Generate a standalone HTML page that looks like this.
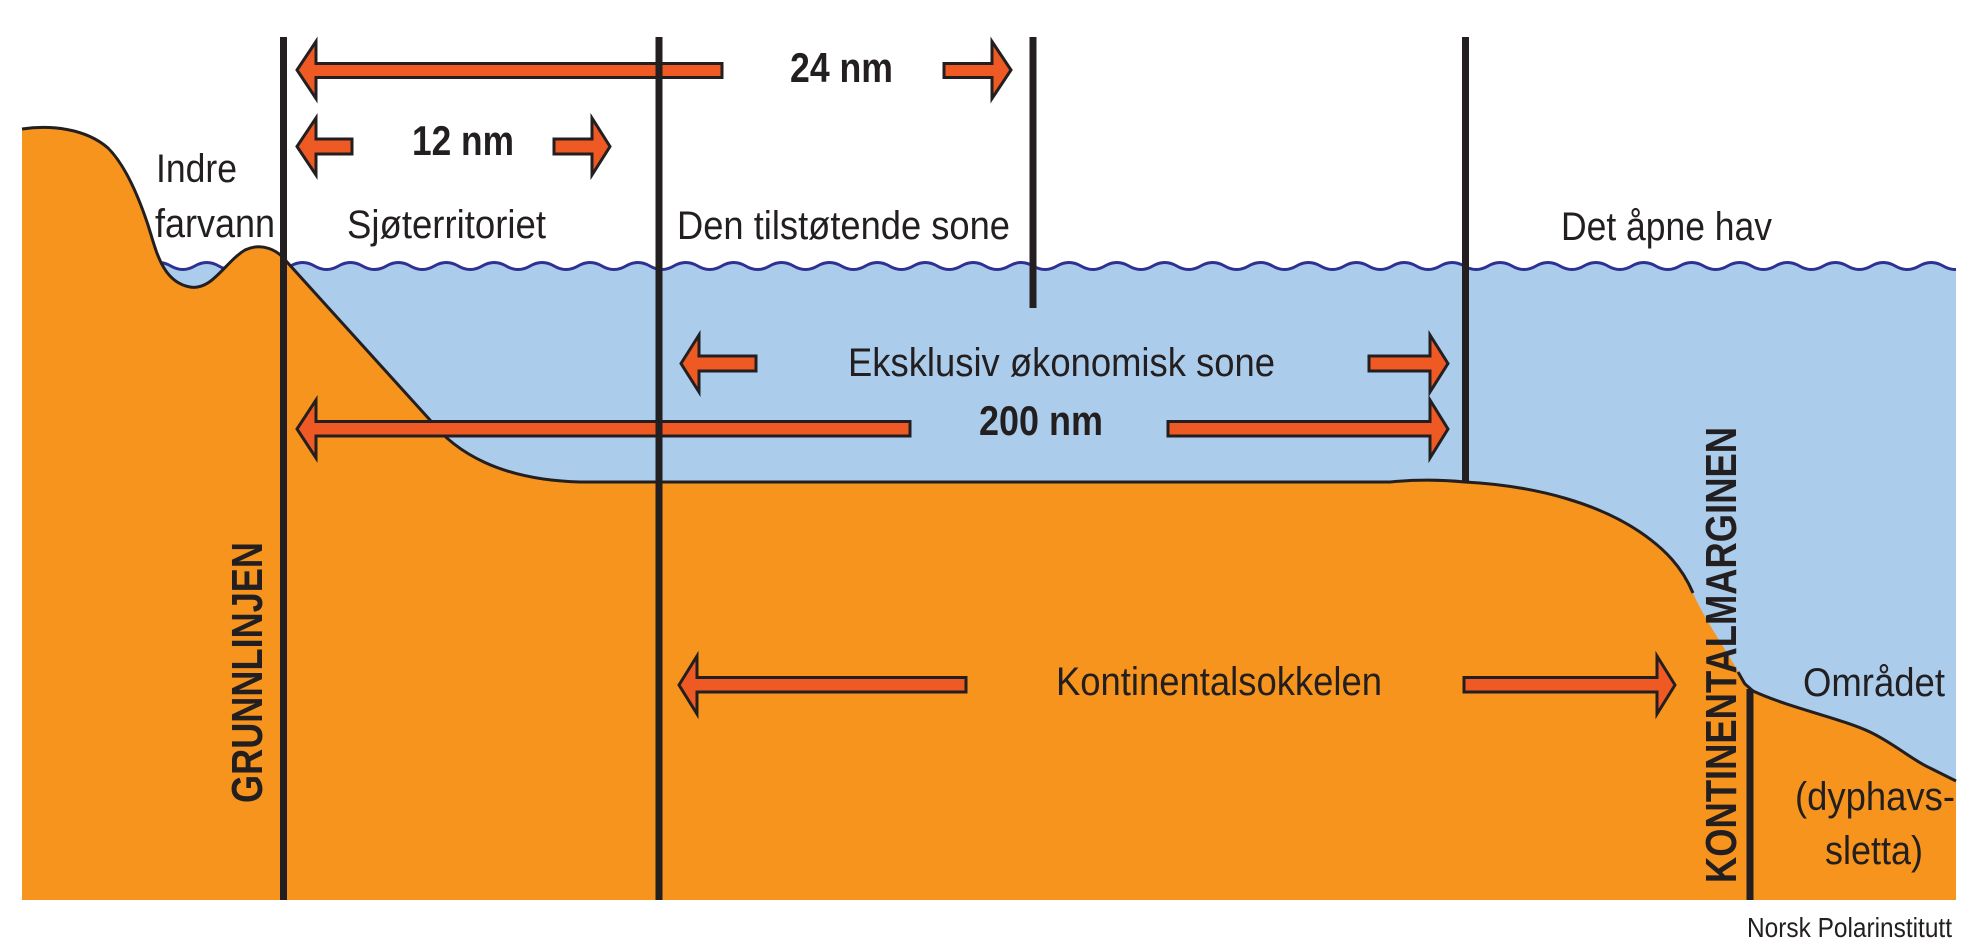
<!DOCTYPE html>
<html>
<head>
<meta charset="utf-8">
<style>
  html,body{margin:0;padding:0;background:#fff;}
  svg{display:block;}
  .t{font-family:"Liberation Sans",Arial,sans-serif;fill:#231f20;}
</style>
</head>
<body>
<svg width="1973" height="952" viewBox="0 0 1973 952" xmlns="http://www.w3.org/2000/svg">
  <defs>
    <clipPath id="cw"><rect x="0" y="0" width="1956" height="952"/></clipPath>
  </defs>
  <rect x="0" y="0" width="1973" height="952" fill="#ffffff"/>

  <!-- water fill -->
  <g clip-path="url(#cw)">
    <path fill="#abcdeb" d="M146.9,266 q11.975,-7 23.95,0 t23.95,0 t23.95,0 t23.95,0 t23.95,0 t23.95,0 t23.95,0 t23.95,0 t23.95,0 t23.95,0 t23.95,0 t23.95,0 t23.95,0 t23.95,0 t23.95,0 t23.95,0 t23.95,0 t23.95,0 t23.95,0 t23.95,0 t23.95,0 t23.95,0 t23.95,0 t23.95,0 t23.95,0 t23.95,0 t23.95,0 t23.95,0 t23.95,0 t23.95,0 t23.95,0 t23.95,0 t23.95,0 t23.95,0 t23.95,0 t23.95,0 t23.95,0 t23.95,0 t23.95,0 t23.95,0 t23.95,0 t23.95,0 t23.95,0 t23.95,0 t23.95,0 t23.95,0 t23.95,0 t23.95,0 t23.95,0 t23.95,0 t23.95,0 t23.95,0 t23.95,0 t23.95,0 t23.95,0 t23.95,0 t23.95,0 t23.95,0 t23.95,0 t23.95,0 t23.95,0 t23.95,0 t23.95,0 t23.95,0 t23.95,0 t23.95,0 t23.95,0 t23.95,0 t23.95,0 t23.95,0 t23.95,0 t23.95,0 t23.95,0 t23.95,0 t23.95,0 t23.95,0 t23.95,0 t23.95,0 L1995,900 L146.9,900 Z"/>
    <path fill="none" stroke="#2e3192" stroke-width="3" d="M146.9,266 q11.975,-7 23.95,0 t23.95,0 t23.95,0 t23.95,0 t23.95,0 t23.95,0 t23.95,0 t23.95,0 t23.95,0 t23.95,0 t23.95,0 t23.95,0 t23.95,0 t23.95,0 t23.95,0 t23.95,0 t23.95,0 t23.95,0 t23.95,0 t23.95,0 t23.95,0 t23.95,0 t23.95,0 t23.95,0 t23.95,0 t23.95,0 t23.95,0 t23.95,0 t23.95,0 t23.95,0 t23.95,0 t23.95,0 t23.95,0 t23.95,0 t23.95,0 t23.95,0 t23.95,0 t23.95,0 t23.95,0 t23.95,0 t23.95,0 t23.95,0 t23.95,0 t23.95,0 t23.95,0 t23.95,0 t23.95,0 t23.95,0 t23.95,0 t23.95,0 t23.95,0 t23.95,0 t23.95,0 t23.95,0 t23.95,0 t23.95,0 t23.95,0 t23.95,0 t23.95,0 t23.95,0 t23.95,0 t23.95,0 t23.95,0 t23.95,0 t23.95,0 t23.95,0 t23.95,0 t23.95,0 t23.95,0 t23.95,0 t23.95,0 t23.95,0 t23.95,0 t23.95,0 t23.95,0 t23.95,0"/>
  </g>

  <!-- land fill -->
  <path fill="#f7941d" d="M22,900 L22,129
    C50,125 85,128 108,148
    C125,165 138,195 148,225
    C156,250 162,282 190,287
    C212,291 225,262 245,250
    C262,242 278,250 287,262
    L430,420
    C455,452 500,480 580,482
    L1390,482
    C1420,479 1445,480 1465,482
    C1540,486 1600,505 1640,532
    C1665,549 1682,567 1693,593
    C1705,621 1730,655 1745,684
    L1753,691
    C1790,708 1840,718 1870,732
    C1895,744 1912,760 1930,768
    L1956,781 L1956,900 Z"/>
  <!-- land outline -->
  <path fill="none" stroke="#231f20" stroke-width="3" stroke-linejoin="round" d="M22,129
    C50,125 85,128 108,148
    C125,165 138,195 148,225
    C156,250 162,282 190,287
    C212,291 225,262 245,250
    C262,242 278,250 287,262
    L430,420
    C455,452 500,480 580,482
    L1390,482
    C1420,479 1445,480 1465,482
    C1540,486 1600,505 1640,532
    C1665,549 1682,567 1693,593"/>
  <path fill="none" stroke="#231f20" stroke-width="3" stroke-linejoin="round" d="M1738,672 C1741,677 1743,681 1745,684
    L1753,691
    C1790,708 1840,718 1870,732
    C1895,744 1912,760 1930,768
    L1956,781"/>

  <!-- arrows -->
  <g fill="#ef5a24" stroke="#231f20" stroke-width="3" stroke-linejoin="miter">
    <polygon points="297,70 316,41.5 316,63.5 722,63.5 722,77.5 316,77.5 316,98.5"/>
    <polygon points="1011,70 992,41.5 992,63.5 944,63.5 944,77.5 992,77.5 992,98.5"/>
    <polygon points="297,146.5 316,118 316,139 352,139 352,154 316,154 316,175"/>
    <polygon points="610,146.5 592,118 592,139 554,139 554,154 592,154 592,175"/>
    <polygon points="681,363.5 699,335 699,356 756,356 756,371 699,371 699,392"/>
    <polygon points="1448,363.5 1430,335 1430,356 1369,356 1369,371 1430,371 1430,392"/>
    <polygon points="297,429 316,400 316,421.5 910,421.5 910,436 316,436 316,458"/>
    <polygon points="1448,429 1430,400 1430,421.5 1168,421.5 1168,436 1430,436 1430,458"/>
    <polygon points="679,685 697,656 697,677.5 966,677.5 966,692 697,692 697,714"/>
    <polygon points="1675,685 1657,656 1657,677.5 1464,677.5 1464,692 1657,692 1657,714"/>
  </g>

  <!-- vertical lines -->
  <g fill="#231f20">
    <rect x="280" y="37" width="7" height="863"/>
    <rect x="655.5" y="37" width="7" height="863"/>
    <rect x="1029.5" y="37" width="7" height="271"/>
    <rect x="1462" y="37" width="7" height="446"/>
    <rect x="1746.5" y="689" width="7" height="211"/>
  </g>

  <!-- labels -->
  <g class="t" font-size="40">
    <text x="156" y="182" textLength="81" lengthAdjust="spacingAndGlyphs">Indre</text>
    <text x="155" y="237" textLength="120" lengthAdjust="spacingAndGlyphs">farvann</text>
    <text x="347" y="238" textLength="199" lengthAdjust="spacingAndGlyphs">Sjøterritoriet</text>
    <text x="677" y="239" textLength="333" lengthAdjust="spacingAndGlyphs">Den tilstøtende sone</text>
    <text x="1561" y="240" textLength="211" lengthAdjust="spacingAndGlyphs">Det åpne hav</text>
    <text x="848" y="376" textLength="427" lengthAdjust="spacingAndGlyphs">Eksklusiv økonomisk sone</text>
    <text x="1056" y="695" textLength="326" lengthAdjust="spacingAndGlyphs">Kontinentalsokkelen</text>
    <text x="1803" y="696" textLength="142" lengthAdjust="spacingAndGlyphs">Området</text>
    <text x="1795" y="810" textLength="160" lengthAdjust="spacingAndGlyphs">(dyphavs-</text>
    <text x="1825" y="864" textLength="98" lengthAdjust="spacingAndGlyphs">sletta)</text>
  </g>
  <text class="t" x="1747" y="937" font-size="28" textLength="205" lengthAdjust="spacingAndGlyphs">Norsk Polarinstitutt</text>

  <g class="t" font-size="42" font-weight="bold">
    <text x="412" y="155" textLength="102" lengthAdjust="spacingAndGlyphs">12 nm</text>
    <text x="790" y="82" textLength="103" lengthAdjust="spacingAndGlyphs">24 nm</text>
    <text x="979" y="435" textLength="124" lengthAdjust="spacingAndGlyphs">200 nm</text>
  </g>
  <g class="t" font-size="44" font-weight="bold">
    <text transform="translate(262,803) rotate(-90)" x="0" y="0" textLength="261" lengthAdjust="spacingAndGlyphs">GRUNNLINJEN</text>
    <text transform="translate(1736,883) rotate(-90)" x="0" y="0" textLength="456" lengthAdjust="spacingAndGlyphs">KONTINENTALMARGINEN</text>
  </g>
</svg>
</body>
</html>
